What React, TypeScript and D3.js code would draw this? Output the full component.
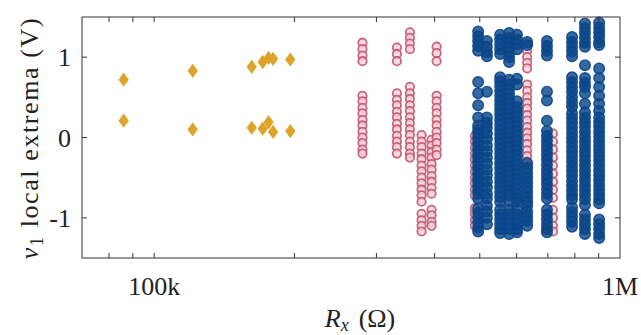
import React from 'react';
import * as d3 from 'd3';

const width = 641;
const height = 335;

// gold diamonds: two extrema per resistance
const goldR = [86000, 121000, 162000, 171000, 176000, 180000, 196000];
const goldHigh = [0.72, 0.83, 0.88, 0.94, 0.99, 0.98, 0.97];
const goldLow = [0.21, 0.1, 0.12, 0.11, 0.19, 0.07, 0.08];

// pink open circles
const pinkR = [280000, 332000, 354000, 375000, 394000, 404000, 488000, 632000, 718000];
const pinkV = [
  [1.18, 1.1, 1.02, 0.95, 0.52, 0.45, 0.37, 0.3, 0.22, 0.15, 0.07, 0.0, -0.07, -0.15, -0.2],
  [1.12, 1.04, 0.95, 0.55, 0.47, 0.4, 0.32, 0.25, 0.17, 0.1, 0.02, -0.05, -0.12, -0.2],
  [1.31, 1.24, 1.17, 1.1, 0.63, 0.55, 0.48, 0.4, 0.33, 0.25, 0.18, 0.1, 0.03, -0.05, -0.12, -0.2, -0.25],
  [0.03, -0.05, -0.12, -0.2, -0.27, -0.35, -0.42, -0.5, -0.57, -0.65, -0.72, -0.8, -0.95, -1.03, -1.1, -1.17],
  [-0.03, -0.1, -0.18, -0.25, -0.33, -0.4, -0.48, -0.55, -0.63, -0.7, -0.9, -0.97, -1.05, -1.1],
  [1.13, 1.05, 0.95, 0.52, 0.45, 0.37, 0.3, 0.22, 0.15, 0.07, 0.0, -0.07, -0.15, -0.22],
  [0.02, -0.05, -0.12, -0.2, -0.27, -0.35, -0.42, -0.5, -0.57, -0.65, -0.72, -0.88, -0.95, -1.03, -1.1],
  [1.08, 1.0, 0.93, 0.86, 0.66, 0.58, 0.5, 0.43, 0.36, 0.28, 0.21, 0.13, 0.06, -0.01, -0.08, -0.16, -0.23, -0.3],
  [0.05, -0.05, -0.15, -0.25, -0.35, -0.45, -0.55, -0.65, -0.75, -0.9, -1.0, -1.1, -1.17],
];

// blue filled circles
const blueR = [496000, 518000, 553000, 578000, 601000, 632000, 697000, 789000, 841000, 902000];
const blueV = [
  [1.32, 1.26, 1.2, 1.14, 1.08, 0.69, 0.55, 0.4, 0.25, 0.15, 0.1, 0.05, 0.0, -0.05, -0.1, -0.15, -0.2, -0.25, -0.3, -0.35, -0.4, -0.45, -0.5, -0.55, -0.6, -0.65, -0.7, -0.76, -0.88, -0.94, -1.0, -1.06, -1.12, -1.17],
  [1.2, 1.13, 1.06, 1.01, 0.57, 0.25, 0.18, 0.12, 0.05, -0.02, -0.1, -0.17, -0.25, -0.32, -0.4, -0.47, -0.55, -0.62, -0.7, -0.76, -0.85, -0.92, -1.0, -1.08],
  [1.28, 1.22, 1.16, 1.1, 1.04, 0.75, 0.7, 0.64, 0.58, 0.52, 0.46, 0.4, 0.34, 0.28, 0.22, 0.16, 0.1, 0.04, -0.02, -0.08, -0.14, -0.2, -0.26, -0.32, -0.38, -0.44, -0.5, -0.56, -0.62, -0.68, -0.74, -0.8, -0.9, -0.96, -1.02, -1.08, -1.14, -1.19],
  [1.3, 1.24, 1.18, 1.12, 1.06, 1.0, 0.94, 0.72, 0.66, 0.6, 0.54, 0.48, 0.42, 0.36, 0.3, 0.24, 0.18, 0.12, 0.06, 0.0, -0.06, -0.12, -0.18, -0.24, -0.3, -0.36, -0.42, -0.48, -0.54, -0.6, -0.66, -0.72, -0.79, -0.9, -0.96, -1.02, -1.08, -1.14, -1.2],
  [1.28, 1.22, 1.16, 1.1, 0.73, 0.66, 0.45, 0.38, 0.32, 0.26, 0.2, 0.14, 0.08, 0.02, -0.04, -0.1, -0.16, -0.22, -0.28, -0.34, -0.4, -0.46, -0.52, -0.58, -0.64, -0.7, -0.76, -0.8, -0.9, -0.96, -1.02, -1.08, -1.14, -1.18],
  [1.19, 1.15, -0.32, -0.38, -0.44, -0.5, -0.56, -0.62, -0.68, -0.74, -0.8, -0.85, -0.92, -0.98, -1.04, -1.1],
  [1.2, 1.14, 1.08, 1.02, 0.57, 0.46, 0.21, 0.08, 0.02, -0.04, -0.1, -0.16, -0.22, -0.28, -0.34, -0.4, -0.46, -0.52, -0.58, -0.64, -0.7, -0.76, -0.9, -0.96, -1.02, -1.08, -1.14, -1.18],
  [1.25, 1.19, 1.13, 1.07, 1.01, 0.75, 0.69, 0.63, 0.57, 0.5, 0.44, 0.38, 0.3, 0.24, 0.18, 0.12, 0.06, 0.0, -0.06, -0.12, -0.18, -0.24, -0.3, -0.36, -0.42, -0.48, -0.54, -0.6, -0.66, -0.72, -0.77, -0.87, -0.93, -0.99, -1.05, -1.11],
  [1.42, 1.36, 1.3, 1.24, 1.18, 1.13, 0.9, 0.74, 0.68, 0.63, 0.55, 0.42, 0.31, 0.25, 0.19, 0.13, 0.07, 0.01, -0.05, -0.11, -0.17, -0.23, -0.29, -0.35, -0.41, -0.47, -0.53, -0.59, -0.65, -0.71, -0.77, -0.84, -0.96, -1.02, -1.08, -1.14, -1.2],
  [1.43, 1.37, 1.31, 1.25, 1.19, 1.15, 0.86, 0.74, 0.63, 0.52, 0.42, 0.33, 0.25, 0.19, 0.13, 0.07, 0.01, -0.05, -0.11, -0.17, -0.23, -0.29, -0.35, -0.41, -0.47, -0.53, -0.59, -0.65, -0.71, -0.77, -0.82, -1.02, -1.08, -1.14, -1.2, -1.25],
];

const xMinorTicks = [80000, 90000, 100000, 200000, 300000, 400000, 500000, 600000, 700000, 800000, 900000];
const xTickVals = [100000, 1000000];
const xTickText = ['100k', '1M'];
const yTickVals = [-1, 0, 1];
const yTickText = ['-1', '0', '1'];

const font = "'Liberation Serif', 'DejaVu Serif', serif";

export default function App() {
  const x = d3.scaleLog().domain([70000, 1000000]).range([82, 620]);
  const y = d3.scaleLinear().domain([-1.5, 1.5]).range([258, 17]);
  const [x0, x1] = x.range();
  const [y0, y1] = y.range();
  const tk = 5;

  const diamond = d3.symbol().type(d3.symbolDiamond2).size(130)() as string;

  const gold = goldR.flatMap((r, i) => [
    { r, v: goldHigh[i] },
    { r, v: goldLow[i] },
  ]);
  const pink = pinkR.flatMap((r, i) => pinkV[i].map(v => ({ r, v })));
  const blue = blueR.flatMap((r, i) => blueV[i].map(v => ({ r, v })));

  return (
    <svg width={width} height={height} style={{ position: 'fixed', left: 0, top: 0, background: '#fff' }}
      fontFamily={font}>
      {/* markers */}
      <g>
        {gold.map((d, i) => (
          <path key={'g' + i} d={diamond}
            transform={`translate(${x(d.r)},${y(d.v)}) scale(0.72,1)`}
            fill="#dea32a" />
        ))}
      </g>
      <g>
        {pink.map((d, i) => (
          <circle key={'p' + i} cx={x(d.r)} cy={y(d.v)} r={4.2}
            fill="#f5d3da" fillOpacity={0.85} stroke="#c04f6a" strokeWidth={1.8} strokeOpacity={0.85} />
        ))}
      </g>
      <g>
        {blue.map((d, i) => (
          <circle key={'b' + i} cx={x(d.r)} cy={y(d.v)} r={5.3}
            fill="#0a4689" fillOpacity={0.82} stroke="#0a4689" strokeWidth={1.4} strokeOpacity={0.9} />
        ))}
      </g>

      {/* frame and ticks */}
      <rect x={x0} y={y1} width={x1 - x0} height={y0 - y1} fill="none" stroke="#333" strokeWidth={1} />
      <g stroke="#333" strokeWidth={1}>
        {xMinorTicks.map(t => (
          <g key={'xt' + t}>
            <line x1={x(t)} x2={x(t)} y1={y0} y2={y0 - tk} />
            <line x1={x(t)} x2={x(t)} y1={y1} y2={y1 + tk} />
          </g>
        ))}
        {yTickVals.map(t => (
          <g key={'yt' + t}>
            <line x1={x0} x2={x0 + tk} y1={y(t)} y2={y(t)} />
            <line x1={x1} x2={x1 - tk} y1={y(t)} y2={y(t)} />
          </g>
        ))}
      </g>

      {/* tick labels */}
      <g fontSize={26} fill="#222">
        {xTickVals.map((t, i) => (
          <text key={'xl' + t} x={x(t)} y={295} textAnchor="middle">{xTickText[i]}</text>
        ))}
        {yTickVals.map((t, i) => (
          <text key={'yl' + t} x={71} y={y(t) + 9} textAnchor="end">{yTickText[i]}</text>
        ))}
      </g>

      {/* axis titles */}
      <text x={360} y={327} fontSize={26} textAnchor="middle" fill="#222">
        <tspan fontStyle="italic">R</tspan>
        <tspan fontSize={18} fontStyle="italic" dy={4}>x</tspan>
        <tspan dy={-4} dx={10}>(Ω)</tspan>
      </text>
      <text transform={`translate(38,138) rotate(-90)`} fontSize={26} letterSpacing={1.6}
        textAnchor="middle" fill="#222">
        <tspan fontStyle="italic">v</tspan>
        <tspan fontSize={18} dy={5}>1</tspan>
        <tspan dy={-5}> local extrema (V)</tspan>
      </text>
    </svg>
  );
}
